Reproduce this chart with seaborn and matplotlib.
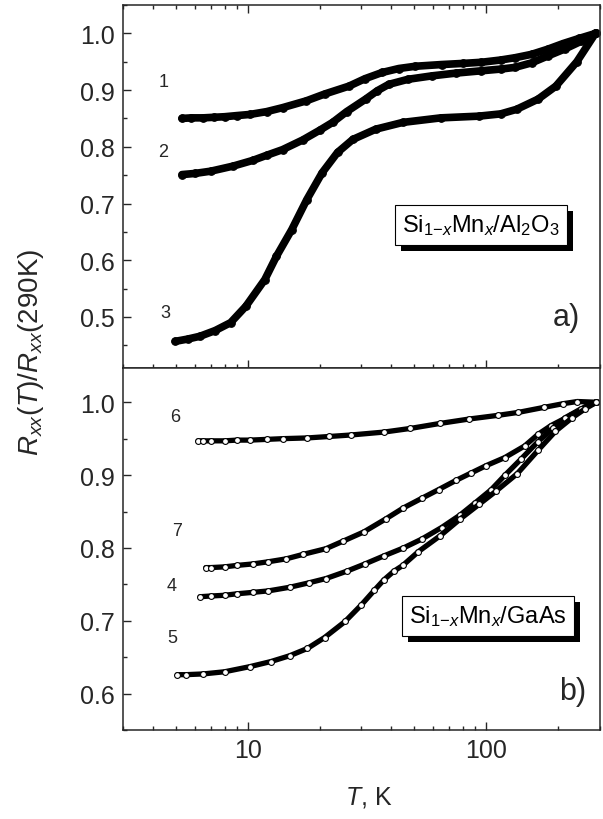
import numpy as np
import pandas as pd
import matplotlib
matplotlib.use("Agg")
import matplotlib.pyplot as plt
import seaborn as sns
from matplotlib.ticker import MultipleLocator, LogLocator, NullFormatter
from matplotlib.patches import Rectangle
from matplotlib.transforms import IdentityTransform

# --- panel a) Si1-xMnx / Al2O3 ---
T1 = [5.3, 5.8, 6.5, 7.2, 8.0, 9.0, 10.2, 12, 14, 17.6, 21, 26.6, 31, 36.6, 43, 50.5,
      65, 80, 95.5, 115, 132, 155, 181, 210, 245, 288]
v1 = [0.850, 0.851, 0.851, 0.852, 0.853, 0.855, 0.857, 0.862, 0.869, 0.881, 0.893, 0.907,
      0.920, 0.931, 0.938, 0.942, 0.945, 0.947, 0.949, 0.953, 0.957, 0.963, 0.972, 0.982,
      0.991, 1.0]
T2 = [5.3, 6.0, 7.0, 8.69, 10.5, 12, 14, 17, 20, 22.7, 26, 31.2, 35, 39, 47, 59.1, 75,
      95.5, 115, 132, 155, 181, 215, 250, 288]
v2 = [0.751, 0.753, 0.757, 0.766, 0.776, 0.785, 0.795, 0.812, 0.829, 0.843, 0.862, 0.884,
      0.899, 0.910, 0.919, 0.925, 0.930, 0.934, 0.937, 0.940, 0.948, 0.960, 0.973, 0.986, 1.0]
T3 = [4.97, 5.6, 6.31, 7.3, 8.48, 9.83, 11.8, 13.2, 15.3, 17.7, 20.5, 23.8, 27.6, 34.4,
      44.7, 64.5, 93, 115, 134, 165, 196, 240, 287]
v3 = [0.457, 0.461, 0.466, 0.476, 0.490, 0.519, 0.566, 0.607, 0.654, 0.707, 0.754, 0.790,
      0.813, 0.831, 0.843, 0.851, 0.854, 0.858, 0.866, 0.884, 0.907, 0.950, 1.0]

# --- panel b) Si1-xMnx / GaAs ---
T6 = [6.19, 6.5, 7, 8, 9, 10.2, 12, 14, 17.8, 22, 27, 37.2, 48, 64.3, 85, 112, 136, 175,
      210, 241, 290]
v6 = [0.947, 0.947, 0.947, 0.947, 0.948, 0.948, 0.949, 0.950, 0.951, 0.953, 0.955, 0.959,
      0.964, 0.971, 0.977, 0.982, 0.986, 0.993, 0.998, 1.001, 1.0]
T7 = [6.67, 7, 8, 9, 10.5, 12.2, 14.5, 17, 21.3, 25, 30.7, 38, 45, 53.6, 63.1, 75, 86.6,
      100, 119.6, 145, 165, 187, 226, 260, 290]
v7 = [0.773, 0.773, 0.774, 0.776, 0.778, 0.781, 0.785, 0.791, 0.799, 0.809, 0.822, 0.840,
      0.855, 0.868, 0.880, 0.893, 0.903, 0.913, 0.924, 0.940, 0.956, 0.968, 0.982, 0.993, 1.0]
T4 = [6.31, 7, 8, 9, 10.5, 12.2, 15, 18, 21.3, 26, 31, 37.2, 45, 53.6, 65, 77.6, 90, 105,
      120, 140, 165, 190, 215, 250, 290]
v4 = [0.733, 0.734, 0.735, 0.737, 0.739, 0.741, 0.746, 0.752, 0.758, 0.768, 0.778, 0.789,
      0.800, 0.812, 0.828, 0.845, 0.862, 0.880, 0.900, 0.922, 0.946, 0.964, 0.979, 0.991, 1.0]
T5 = [5.07, 5.5, 6.5, 8, 10.2, 12.5, 15, 17.8, 21, 25.6, 30, 34, 37.2, 41, 44.7, 52, 64.3,
      78, 93.5, 110, 135, 165, 195, 230, 260, 290]
v5 = [0.626, 0.626, 0.627, 0.630, 0.637, 0.644, 0.652, 0.662, 0.677, 0.699, 0.722, 0.742,
      0.756, 0.768, 0.776, 0.795, 0.817, 0.840, 0.860, 0.878, 0.902, 0.934, 0.960, 0.979,
      0.991, 1.0]

curve_labels_a = ["1", "2", "3"]
label_pos_a = [(4.43, 0.915), (4.43, 0.792), (4.5, 0.508)]
curve_labels_b = ["6", "7", "4", "5"]
label_pos_b = [(4.96, 0.981), (5.07, 0.824), (4.81, 0.748), (4.84, 0.677)]

sns.set_theme(style="ticks")
plt.rcParams["font.family"] = ["Liberation Sans", "DejaVu Sans"]
plt.rcParams["mathtext.fontset"] = "custom"
plt.rcParams["mathtext.rm"] = "Liberation Sans"
plt.rcParams["mathtext.it"] = "Liberation Sans:italic"

fig = plt.figure(figsize=(6.03, 8.2), dpi=100)
ax_a = fig.add_axes([0.204, 0.55, 0.791, 0.4427])
ax_b = fig.add_axes([0.204, 0.1085, 0.791, 0.4415], sharex=ax_a)

for T, v in [(T1, v1), (T2, v2), (T3, v3)]:
    sns.lineplot(x=T, y=v, ax=ax_a, color="black", lw=5.5, marker="o", ms=5.5,
                 mfc="black", mec="black", estimator=None, sort=False, legend=False)

for T, v in [(T6, v6), (T7, v7), (T4, v4), (T5, v5)]:
    sns.lineplot(x=T, y=v, ax=ax_b, color="black", lw=3.8, marker="o", ms=4.2,
                 mfc="white", mec="black", mew=0.8, estimator=None, sort=False, legend=False)

ax_a.set_xscale("log")
ax_a.set_xlim(3, 300)
ax_a.set_ylim(0.41, 1.05)
ax_b.set_ylim(0.55, 1.047)

for ax in (ax_a, ax_b):
    ax.yaxis.set_major_locator(MultipleLocator(0.1))
    ax.yaxis.set_minor_locator(MultipleLocator(0.05))
    ax.xaxis.set_major_locator(LogLocator(base=10))
    ax.xaxis.set_minor_locator(LogLocator(base=10, subs=np.arange(2, 10)))
    ax.xaxis.set_minor_formatter(NullFormatter())
    ax.yaxis.set_major_formatter(plt.FuncFormatter(lambda y, p: f"{y:.1f}"))
    ax.tick_params(which="both", direction="in", width=1.0, labelsize=18, pad=6)
    ax.tick_params(which="major", length=6)
    ax.tick_params(which="minor", length=3)
    for s in ax.spines.values():
        s.set_linewidth(1.1)
    ax.set_xlabel("")
    ax.set_ylabel("")

ax_a.tick_params(axis="x", which="both", top=True, bottom=True, labelbottom=False)
ax_b.tick_params(axis="x", which="both", top=False, bottom=True)
ax_b.set_xticks([10, 100])
ax_b.set_xticklabels(["10", "100"])

for lab, (x, y) in zip(curve_labels_a, label_pos_a):
    ax_a.text(x, y, lab, fontsize=13, ha="center", va="center")
for lab, (x, y) in zip(curve_labels_b, label_pos_b):
    ax_b.text(x, y, lab, fontsize=13, ha="center", va="center")


def shadow_box(ax, x, y, s):
    t = ax.text(x, y, s, transform=ax.transAxes, ha="center", va="center",
                fontsize=17, color="black", zorder=6,
                bbox=dict(boxstyle="square,pad=0.3", fc="white", ec="black", lw=0.8))
    fig.canvas.draw()
    bb = t.get_bbox_patch().get_window_extent()
    shadow = Rectangle((bb.x0 + 6, bb.y0 - 6), bb.width, bb.height,
                       fc="black", ec="none", zorder=5, clip_on=False)
    ax.add_patch(shadow)
    shadow.set_transform(IdentityTransform())
    return t


shadow_box(ax_a, 0.751, 0.394, r"Si$_{1\mathrm{-}\mathit{x}}$Mn$_{\mathit{x}}$/Al$_2$O$_3$")
shadow_box(ax_b, 0.765, 0.315, r"Si$_{1\mathrm{-}\mathit{x}}$Mn$_{\mathit{x}}$/GaAs")

ax_a.text(0.93, 0.14, "a)", transform=ax_a.transAxes, fontsize=22, ha="center", va="center")
ax_b.text(0.943, 0.108, "b)", transform=ax_b.transAxes, fontsize=22, ha="center", va="center")

fig.text(0.052, 0.57, r"$\mathit{R}_{\mathit{xx}}(\mathit{T})/\mathit{R}_{\mathit{xx}}$(290K)",
         rotation=90, ha="center", va="center", fontsize=20)
fig.text(0.612, 0.028, r"$\mathit{T}$, K", ha="center", va="center", fontsize=18)

fig.savefig("out.png", dpi=100)
